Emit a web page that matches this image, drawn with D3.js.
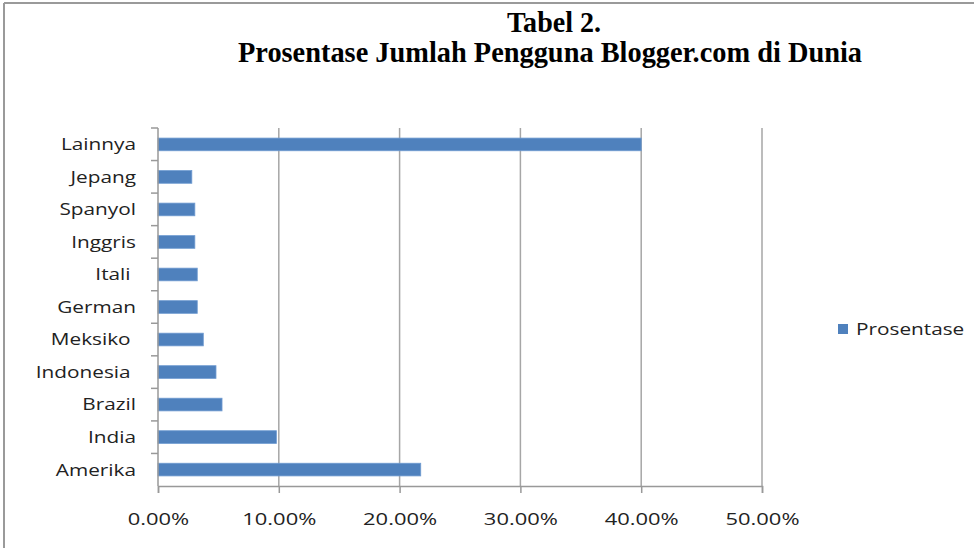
<!DOCTYPE html>
<html>
<head>
<meta charset="utf-8">
<script src="https://cdn.jsdelivr.net/npm/d3@7"></script>
<style>
  html, body { margin: 0; padding: 0; background: #fff; }
  svg { display: block; }
  text { white-space: pre; }
</style>
</head>
<body>
<div id="chart"></div>
<script>
const categories = ["Amerika", "India", "Brazil", "Indonesia ", "Meksiko ", "German", "Itali ", "Inggris", "Spanyol", "Jepang", "Lainnya"];
const prosentase = [21.75, 9.8, 5.3, 4.8, 3.75, 3.25, 3.25, 3.05, 3.05, 2.8, 40.0];
const xTicks = [0, 10, 20, 30, 40, 50];
const titleLines = ["Tabel 2.", "Prosentase Jumlah Pengguna Blogger.com di Dunia"];
const seriesName = "Prosentase";

const width = 974;
const height = 548;
const margin = { top: 128, right: 212, bottom: 62, left: 158 };
const barColor = "#4f81bd";
const labelFont = "'Open Sans', sans-serif";
// the source text is stretched sideways, so widen the labels a bit
const stretch = 1.26;

const svg = d3.select("#chart")
  .append("svg")
  .attr("width", width)
  .attr("height", height);

// frame (only top and left edges show in the picture)
svg.append("line")
  .attr("x1", 4).attr("x2", width).attr("y1", 3).attr("y2", 3)
  .attr("stroke", "#9a9a9a").attr("stroke-width", 2);
svg.append("line")
  .attr("x1", 4).attr("x2", 4).attr("y1", 3).attr("y2", height)
  .attr("stroke", "#9a9a9a").attr("stroke-width", 2);

// title
svg.append("text")
  .attr("x", 554).attr("y", 32)
  .attr("text-anchor", "middle")
  .attr("font-family", "'Liberation Serif', 'Times New Roman', serif")
  .attr("font-weight", "bold")
  .attr("font-size", 29)
  .attr("textLength", 94)
  .attr("lengthAdjust", "spacingAndGlyphs")
  .text(titleLines[0]);
svg.append("text")
  .attr("x", 550).attr("y", 62)
  .attr("text-anchor", "middle")
  .attr("font-family", "'Liberation Serif', 'Times New Roman', serif")
  .attr("font-weight", "bold")
  .attr("font-size", 29)
  .attr("textLength", 624)
  .attr("lengthAdjust", "spacingAndGlyphs")
  .text(titleLines[1]);

const x = d3.scaleLinear()
  .domain([0, 50])
  .range([margin.left, width - margin.right]);

const y = d3.scaleBand()
  .domain(categories)
  .range([height - margin.bottom, margin.top])
  .paddingInner(0.61)
  .paddingOuter(0.31);

const yOuter = d3.scaleBand()
  .domain(categories)
  .range([height - margin.bottom, margin.top]);

// vertical gridlines
svg.append("g")
  .selectAll("line")
  .data(xTicks.slice(1))
  .join("line")
  .attr("x1", d => x(d)).attr("x2", d => x(d))
  .attr("y1", margin.top).attr("y2", height - margin.bottom)
  .attr("stroke", "#a6a6a6")
  .attr("stroke-width", 1.5);

// bars
svg.append("g")
  .selectAll("rect")
  .data(categories)
  .join("rect")
  .attr("x", x(0))
  .attr("y", d => y(d))
  .attr("width", (d, i) => x(prosentase[i]) - x(0))
  .attr("height", y.bandwidth())
  .attr("fill", barColor)
  .attr("stroke", "#6f9bd1")
  .attr("stroke-width", 0.8);

// x axis
const xAxis = svg.append("g")
  .attr("transform", `translate(0,${height - margin.bottom})`)
  .call(d3.axisBottom(x)
    .tickValues(xTicks)
    .tickSize(7)
    .tickFormat(d => d3.format(".2f")(d) + "%"));
xAxis.select(".domain").attr("stroke", "#999").attr("stroke-width", 1.5);
xAxis.selectAll(".tick line").attr("stroke", "#999").attr("stroke-width", 1.5);
xAxis.selectAll(".tick text")
  .attr("y", 0)
  .attr("dy", 0)
  .attr("transform", `translate(0,39) scale(1.33,1)`)
  .attr("font-family", labelFont)
  .attr("font-size", 16.5)
  .attr("fill", "#222");

// y axis line with ticks at category boundaries
svg.append("line")
  .attr("x1", x(0)).attr("x2", x(0))
  .attr("y1", margin.top).attr("y2", height - margin.bottom)
  .attr("stroke", "#999").attr("stroke-width", 1.5);
svg.append("g")
  .selectAll("line")
  .data(categories)
  .join("line")
  .attr("x1", x(0) - 7).attr("x2", x(0))
  .attr("y1", d => yOuter(d)).attr("y2", d => yOuter(d))
  .attr("stroke", "#999").attr("stroke-width", 1.5);

// category labels
svg.append("g")
  .selectAll("text")
  .data(categories)
  .join("text")
  .attr("transform", d => `translate(136,${yOuter(d) + yOuter.bandwidth() / 2}) scale(${stretch},1)`)
  .attr("dy", "0.35em")
  .attr("text-anchor", "end")
  .attr("font-family", labelFont)
  .attr("font-size", 16.5)
  .attr("fill", "#222")
  .text(d => d);

// legend
const legend = svg.append("g").attr("transform", "translate(838,329)");
legend.append("rect")
  .attr("x", 0).attr("y", -5)
  .attr("width", 10).attr("height", 10)
  .attr("fill", barColor);
legend.append("text")
  .attr("transform", `translate(18,0) scale(${stretch},1)`)
  .attr("dy", "0.35em")
  .attr("font-family", labelFont)
  .attr("font-size", 16.5)
  .attr("fill", "#222")
  .text(seriesName);
</script>
</body>
</html>
